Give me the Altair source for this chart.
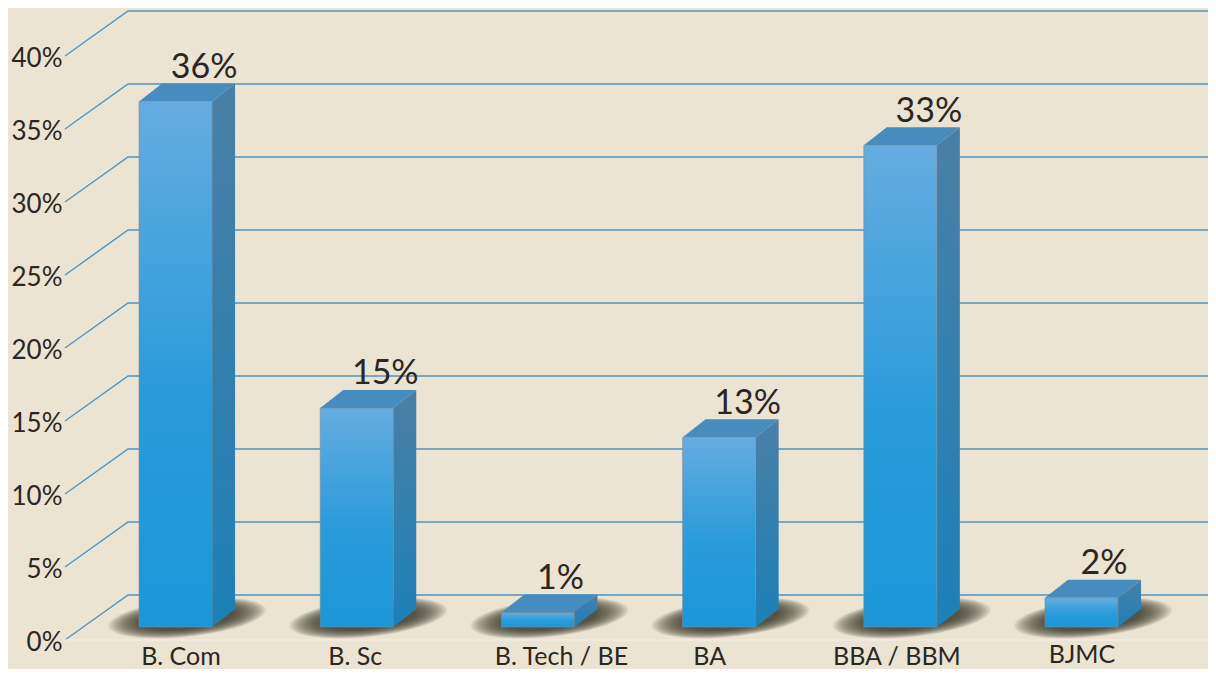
import altair as alt
import pandas as pd

categories = ["B. Com", "B. Sc", "B. Tech / BE", "BA", "BBA / BBM", "BJMC"]
values = [36, 15, 1, 13, 33, 2]
label_shift = [0.03, -0.008, 0.13, -0.052, -0.019, 0.003]
ticks = [0, 5, 10, 15, 20, 25, 30, 35, 40]

FONT = "Lato"
INK = "#2b2622"
PAPER = "#ECE4D2"
GRID = "#4E94C4"
W, H = 1143, 661
X_DOM = [-0.61, 5.698]
Y_DOM = [-2.877, 42.397]
HALF = 0.2015        # half bar width, category units
DX = 0.127           # 3-D depth, category units
DY = 1.233           # 3-D rise, percent units
WALL = 2.19          # back wall rise over the front plane
FRONT = -0.89        # axis-end drop under the front plane
WALL_X = X_DOM[0] + 0.348

xs = alt.Scale(domain=X_DOM, nice=False, zero=False)
ys = alt.Scale(domain=Y_DOM, nice=False, zero=False)
y_axis = alt.Axis(
    values=ticks, domain=False, ticks=False, grid=False, title=None,
    labelExpr="datum.value + '%'", labelFont=FONT, labelFontSize=26,
    labelColor=INK, labelPadding=3, labelOffset=16,
)
X = alt.X("x:Q", scale=xs, axis=None)
Y = alt.Y("y:Q", scale=ys, axis=y_axis)


def grad(stops):
    return alt.LinearGradient(
        gradient="linear", x1=0, x2=0, y1=0, y2=1,
        stops=[alt.GradientStop(offset=o, color=c) for o, c in stops],
    )


def skewed_ellipse(a=0.24, skew=0.1, k=0.5523):
    pts = [
        (1, 0), (1, k * a), (k, a), (0, a), (-k, a), (-1, k * a), (-1, 0),
        (-1, -k * a), (-k, -a), (0, -a), (k, -a), (1, -k * a), (1, 0),
    ]
    p = [(px, py - skew * px) for px, py in pts]
    s = f"M{p[0][0]:.3f} {p[0][1]:.3f}"
    for i in range(1, 13, 3):
        s += " C" + " ".join(f"{q[0]:.3f} {q[1]:.3f}" for q in p[i:i + 3])
    return s + " Z"


grid_rows = []
for t in ticks:
    grid_rows += [
        dict(t=t, o=0, x=X_DOM[0], y=t + FRONT),
        dict(t=t, o=1, x=WALL_X, y=t + WALL),
        dict(t=t, o=2, x=X_DOM[1], y=t + WALL),
    ]
grid = alt.Chart(pd.DataFrame(grid_rows)).mark_line(color=GRID, strokeWidth=1.4).encode(
    x=X, y=Y, detail="t:N", order="o:Q",
)

floor = alt.Chart(pd.DataFrame([dict(x=X_DOM[0], y=FRONT), dict(x=X_DOM[1], y=FRONT)])).mark_line(
    color="#F1ECE0", strokeWidth=1.4
).encode(x=X, y=Y)

shadow_rows = []
side_rows = []
top_rows = []
front_rows = []
label_rows = []
for i, (c, v) in enumerate(zip(categories, values)):
    l, r = i - HALF, i + HALF
    for w in range(158, 90, -3):
        shadow_rows.append(dict(x=i + DX / 2, y=0.62, s=w * w))
    front_rows.append(dict(x=l, x2=r, y=0, y2=v))
    side_rows += [
        dict(c=c, x=r, y=0, y2=v),
        dict(c=c, x=r + DX, y=DY, y2=v + DY),
    ]
    top_rows += [
        dict(c=c, x=l, y=v, y2=v),
        dict(c=c, x=l + DX, y=v, y2=v + DY),
        dict(c=c, x=r, y=v, y2=v + DY),
        dict(c=c, x=r + DX, y=v + DY, y2=v + DY),
    ]
    shift = 0.359 if v >= 10 else 0.326
    label_rows.append(dict(x=l + shift, y=v + 2.3, t=f"{v}%"))

shadow = alt.Chart(pd.DataFrame(shadow_rows)).mark_point(
    shape=skewed_ellipse(), filled=True, color="#3A332C", opacity=0.07, strokeWidth=0
).encode(x=X, y=Y, size=alt.Size("s:Q", scale=None, legend=None))

side = alt.Chart(pd.DataFrame(side_rows)).mark_area(
    orient="vertical", fill=grad([(0, "#4A7FA6"), (1, "#1C80B8")])
).encode(x=X, y=Y, y2="y2:Q", detail="c:N")

top = alt.Chart(pd.DataFrame(top_rows)).mark_area(
    orient="vertical", fill="#478CBE"
).encode(x=X, y=Y, y2="y2:Q", detail="c:N")

front = alt.Chart(pd.DataFrame(front_rows)).mark_rect(
    fill=grad([(0, "#65ACE0"), (0.55, "#2A9BDA"), (1, "#1B97D8")]),
    stroke="#7C8C95", strokeWidth=0.6,
).encode(x=X, x2="x2:Q", y=Y, y2="y2:Q")

value_labels = alt.Chart(pd.DataFrame(label_rows)).mark_text(
    font=FONT, fontSize=34, color=INK, baseline="middle", align="center"
).encode(x=X, y=Y, text="t:N")

cat_rows = [
    dict(x=i + s, y=-2.06 + (0.14 if c == "BJMC" else 0), t=c)
    for i, (c, s) in enumerate(zip(categories, label_shift))
]
cat_labels = alt.Chart(pd.DataFrame(cat_rows)).mark_text(
    font=FONT, fontSize=25, color=INK, baseline="middle", align="center"
).encode(x=X, y=Y, text="t:N")

chart = alt.layer(grid, floor, shadow, top, side, front, value_labels, cat_labels).properties(
    width=W, height=H, background=PAPER,
    padding={"left": 57, "top": 0, "right": 0, "bottom": 0},
    autosize=alt.AutoSizeParams(type="none"),
).configure_view(stroke=None)

chart.save("out.html", embed_options={"renderer": "svg", "actions": False})
